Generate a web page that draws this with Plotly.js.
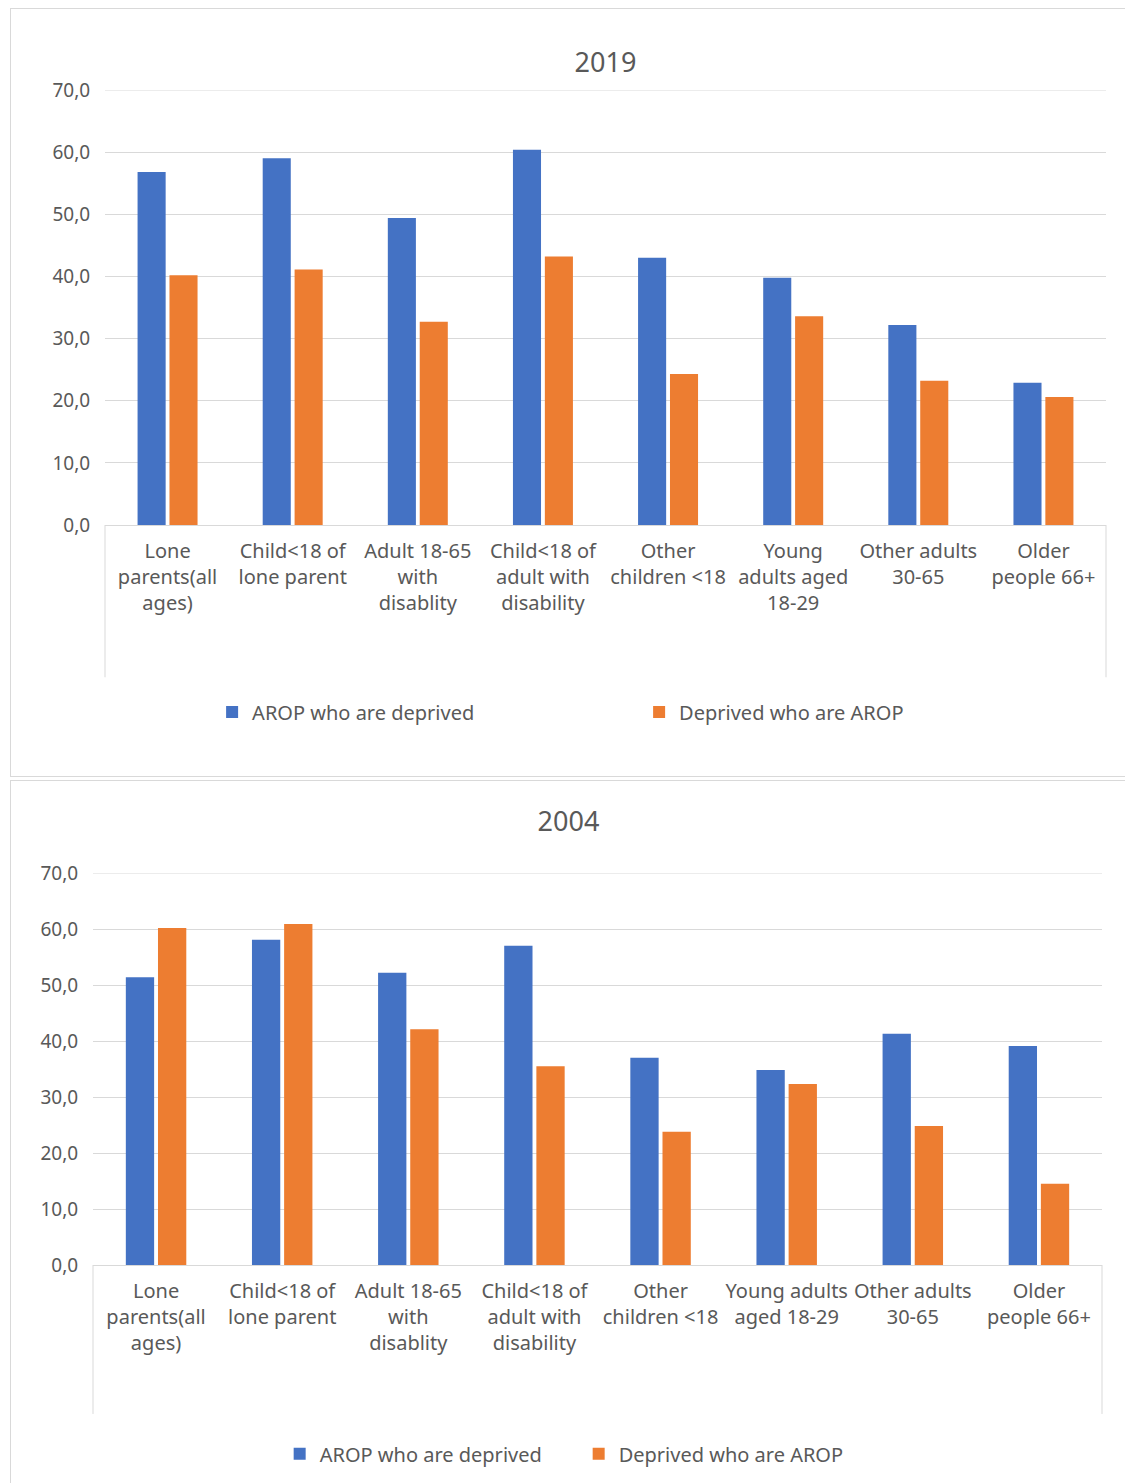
<!DOCTYPE html>
<html>
<head>
<meta charset="utf-8">
<script src="https://cdn.plot.ly/plotly-3.0.1.min.js"></script>
<style>
  body { margin: 0; background: #fff; }
  .box { position: absolute; border: 1px solid #d9d9d9; background: #fff; }
</style>
</head>
<body>
<div id="c2019" class="box" style="left:10px; top:8px; width:1115px; height:767px;"></div>
<div id="c2004" class="box" style="left:10px; top:780px; width:1115px; height:703px;"></div>
<script>
  /* ----------------- Data ----------------- */
  var labels2019 = ['Lone<br>parents(all<br>ages)', 'Child<18 of<br>lone parent', 'Adult 18-65<br>with<br>disablity',
    'Child<18 of<br>adult with<br>disability', 'Other<br>children <18', 'Young<br>adults aged<br>18-29',
    'Other adults<br>30-65', 'Older<br>people 66+'];
  var labels2004 = ['Lone<br>parents(all<br>ages)', 'Child<18 of<br>lone parent', 'Adult 18-65<br>with<br>disablity',
    'Child<18 of<br>adult with<br>disability', 'Other<br>children <18', 'Young adults<br>aged 18-29',
    'Other adults<br>30-65', 'Older<br>people 66+'];
  var arop2019 = [56.8, 59.0, 49.4, 60.4, 43.0, 39.8, 32.2, 22.9];
  var depr2019 = [40.2, 41.1, 32.7, 43.2, 24.3, 33.6, 23.2, 20.6];
  var arop2004 = [51.4, 58.1, 52.2, 57.0, 37.0, 34.8, 41.3, 39.1];
  var depr2004 = [60.2, 60.9, 42.1, 35.5, 23.8, 32.3, 24.8, 14.5];
  var yticks = [0, 10, 20, 30, 40, 50, 60, 70];

  function draw(id, title, labels, arop, depr, margin, opts) {
    var idx = labels.map(function (d, i) { return i; });
    var data = [
      { x: idx, y: arop, type: 'bar', name: 'AROP who are deprived', marker: { color: '#4472c4' } },
      { x: idx, y: depr, type: 'bar', name: 'Deprived who are AROP', marker: { color: '#ed7d31' } }
    ];
    var shapes = [0, 1].map(function (px) {
      return { type: 'line', xref: 'paper', yref: 'paper', x0: px, x1: px, y0: 0, y1: opts.lineBottom, line: { color: '#d9d9d9', width: 1 } };
    });
    // top gridline at 70 sits on the range edge, draw it explicitly
    shapes.push({ type: 'line', xref: 'paper', yref: 'y', x0: 0, x1: 1, y0: 70, y1: 70, layer: 'below', line: { color: '#d9d9d9', width: 1 } });
    var layout = {
      width: 1115, height: document.getElementById(id).clientHeight,
      margin: margin,
      paper_bgcolor: '#fff', plot_bgcolor: '#fff',
      font: { family: 'Noto Sans, sans-serif', size: 19, color: '#595959' },
      title: { text: title, x: opts.titleX, xref: opts.titleRef, xanchor: 'center', y: opts.titleY, yref: 'container', yanchor: 'middle', font: { size: 27, color: '#595959' } },
      barmode: 'group', bargap: 0.49, bargroupgap: 0.12,
      showlegend: true,
      legend: { orientation: 'h', x: opts.legendX, xanchor: 'left', y: opts.legendY, yanchor: 'middle', entrywidth: opts.entry, font: { size: 20 } },
      xaxis: {
        tickvals: idx, ticktext: labels, range: [-0.5, 7.5], showline: true, linecolor: '#d9d9d9',
        ticks: 'outside', ticklen: 8, tickcolor: 'rgba(0,0,0,0)', tickfont: { size: 20 }, fixedrange: true
      },
      yaxis: {
        range: [0, 70], tickvals: yticks, ticktext: yticks.map(function (v) { return v.toFixed(1).replace('.', ','); }),
        gridcolor: '#d9d9d9', zeroline: false, ticks: 'outside', ticklen: 10, tickcolor: 'rgba(0,0,0,0)', fixedrange: true
      },
      shapes: shapes
    };
    Plotly.newPlot(id, data, layout, { staticPlot: true });
  }

  draw('c2019', '2019', labels2019, arop2019, depr2019, { l: 94, r: 20, t: 81, b: 251 },
    { titleX: 0.5, titleRef: 'paper', titleY: 0.93, legendX: 0.107, legendY: -0.43, entry: 382, lineBottom: -0.35 });
  draw('c2004', '2004', labels2004, arop2004, depr2004, { l: 82, r: 24, t: 92, b: 218 },
    { titleX: 0.5, titleRef: 'container', titleY: 0.943, legendX: 0.185, legendY: -0.478, entry: 254, lineBottom: -0.38 });
</script>
</body>
</html>
